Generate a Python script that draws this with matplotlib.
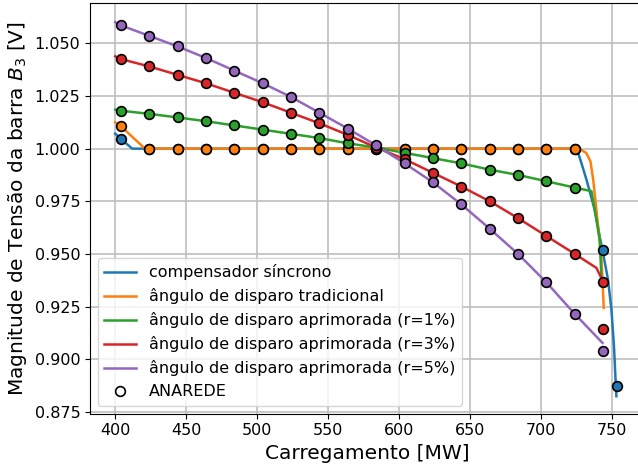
import numpy as np
import matplotlib
matplotlib.use("Agg")
import matplotlib.pyplot as plt
from matplotlib.ticker import MultipleLocator, FormatStrFormatter

# ANAREDE points (markers)
x_pts = [404, 424, 444, 464, 484, 504, 524, 544, 564, 584, 604, 624, 644, 664, 684, 704, 724]

sinc_x = x_pts + [744, 754]
sinc_y = [1.0046] + [1.000] * 16 + [0.9518, 0.8875]

trad_x = x_pts
trad_y = [1.0106] + [1.000] * 16

r1_x = x_pts
r1_y = [1.018, 1.0165, 1.0148, 1.013, 1.011, 1.009, 1.007, 1.005, 1.0025, 1.0005,
        0.998, 0.9955, 0.993, 0.990, 0.9875, 0.9845, 0.9815]

r3_x = x_pts + [744, 744]
r3_y = [1.0425, 1.039, 1.035, 1.031, 1.0265, 1.022, 1.017, 1.012, 1.0065, 1.0005,
        0.995, 0.9885, 0.982, 0.975, 0.967, 0.9585, 0.950, 0.9367, 0.9144]

r5_x = x_pts + [744]
r5_y = [1.0585, 1.0535, 1.0485, 1.043, 1.037, 1.031, 1.0245, 1.017, 1.0095, 1.0015,
        0.993, 0.984, 0.9735, 0.962, 0.950, 0.9365, 0.9215, 0.9041]

# continuation curves (lines)
sinc_lx = [400, 404, 410.6, 412] + x_pts[1:] + [726.3, 727.5, 732.2, 738, 741.5, 744,
                                                747.4, 749.8, 751.6, 752.8, 753.3]
sinc_ly = [1.0071, 1.0046, 1.0008, 1.000] + [1.000] * 16 + [0.998, 0.9956, 0.9853, 0.971,
                                                           0.9584, 0.950, 0.9378, 0.9236,
                                                           0.906, 0.8888, 0.8825]

trad_lx = [400, 404, 421] + x_pts[1:] + [728, 732, 735, 737, 739.5, 742.7, 744.4]
trad_ly = [1.0125, 1.0106, 1.000] + [1.000] * 16 + [0.9995, 0.998, 0.994, 0.985, 0.969,
                                                   0.949, 0.9244]

r1_lx = [400] + x_pts + [735.7, 739.2, 741.5, 742.7, 743.3]
r1_ly = [1.0185] + r1_y + [0.9798, 0.9663, 0.9568, 0.9394, 0.937]

r3_lx = [400] + x_pts + [739.2, 742.7, 743.5]
r3_ly = [1.0438] + r3_y[:17] + [0.9434, 0.9386, 0.937]

r5_lx = [400] + x_pts + [743.5]
r5_ly = [1.060] + r5_y[:17] + [0.9078]

colors = ['#1f77b4', '#ff7f0e', '#2ca02c', '#d62728', '#9467bd']
labels = ['compensador síncrono', 'ângulo de disparo tradicional',
          'ângulo de disparo aprimorada (r=1%)', 'ângulo de disparo aprimorada (r=3%)',
          'ângulo de disparo aprimorada (r=5%)']

lines = [(sinc_lx, sinc_ly), (trad_lx, trad_ly), (r1_lx, r1_ly), (r3_lx, r3_ly), (r5_lx, r5_ly)]
points = [(sinc_x, sinc_y), (trad_x, trad_y), (r1_x, r1_y), (r3_x, r3_y), (r5_x, r5_y)]

fig = plt.figure(figsize=(6.38, 4.70), dpi=100)
ax = fig.add_axes([0.1411, 0.1202, 0.8683, 0.8734])

for (lx, ly), c, lab in zip(lines, colors, labels):
    ax.plot(lx, ly, color=c, lw=1.8, label=lab, zorder=2)

for (px, py), c in zip(points, colors):
    ax.plot(px, py, 'o', color=c, markersize=7, markeredgecolor='black',
            markeredgewidth=1.2, zorder=3)

# legend entry only
ax.plot([], [], 'o', color='white', markersize=7, markeredgecolor='black',
        markeredgewidth=1.2, label='ANAREDE')

ax.set_xlim(382.25, 772.75)
ax.set_ylim(0.8743, 1.0691)
ax.xaxis.set_major_locator(MultipleLocator(50))
ax.yaxis.set_major_locator(MultipleLocator(0.025))
ax.yaxis.set_major_formatter(FormatStrFormatter('%.3f'))
ax.tick_params(labelsize=11.5)
ax.grid(True, color='#bfbfbf', lw=1.2)
ax.set_axisbelow(True)

ax.set_xlabel('Carregamento [MW]', fontsize=14.5)
ax.set_ylabel('Magnitude de Tensão da barra $B_3$ [V]', fontsize=14.5)
ax.legend(loc='lower left', fontsize=11.5)

fig.savefig('out.png', dpi=100)
